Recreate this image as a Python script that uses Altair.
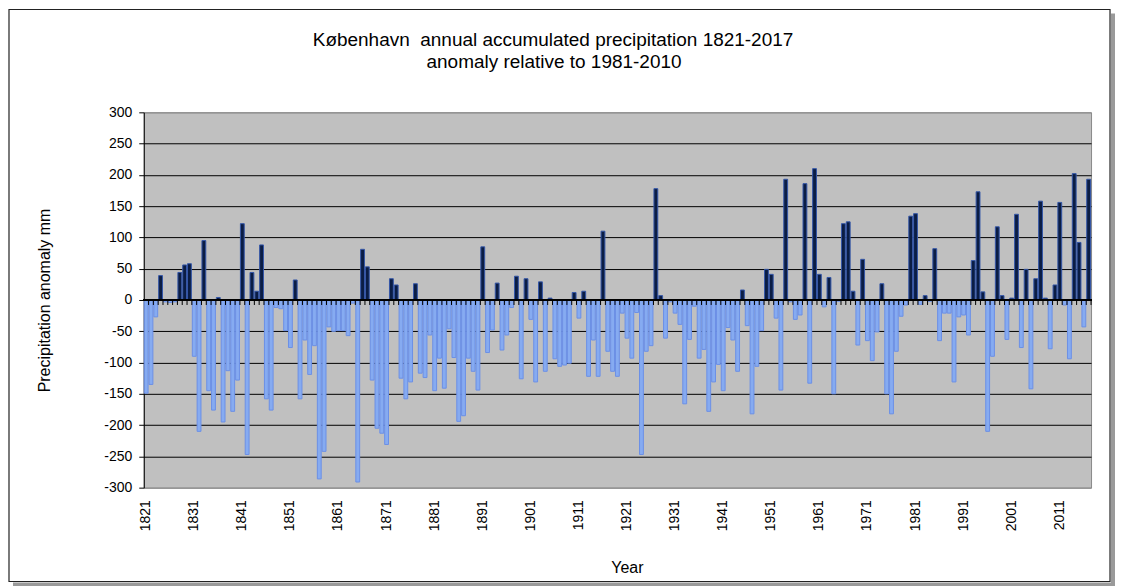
import altair as alt
import pandas as pd

years = list(range(1821, 2018))
anomaly = [
    -149, -135, -27, 39, -3, -4, -3, 44, 56, 58,
    -90, -210, 95, -145, -176, 4, -195, -113, -178, -128,
    122, -247, 44, 14, 88, -158, -176, -12, -14, -49,
    -76, 32, -158, -64, -119, -73, -286, -242, -43, -50,
    -49, -49, -57, -5, -291, 81, 53, -128, -205, -213,
    -231, 34, 24, -125, -158, -131, 26, -117, -124, -56,
    -145, -93, -141, -46, -92, -194, -185, -93, -114, -144,
    85, -84, -48, 27, -80, -56, -12, 38, -126, 34,
    -31, -131, 29, -114, 3, -94, -106, -104, -101, 12,
    -29, 14, -122, -64, -122, 110, -82, -114, -122, -21,
    -61, -93, -20, -247, -82, -73, 178, 7, -61, -3,
    -21, -39, -166, -63, -10, -93, -79, -178, -131, -103,
    -145, -44, -64, -114, 16, -41, -182, -106, -49, 49,
    41, -29, -144, 193, -3, -31, -24, 186, -133, 210,
    41, -11, 36, -150, -2, 122, 125, 14, -72, 65,
    -65, -97, -51, 26, -150, -182, -82, -26, -8, 134,
    138, -7, 7, -2, 82, -65, -21, -21, -131, -27,
    -24, -56, 63, 173, 13, -210, -90, 117, 7, -63,
    3, 137, -76, 49, -142, 34, 158, 3, -78, 24,
    156, -8, -94, 202, 92, -43, 193,
]
tick_years = list(range(1821, 2012, 10))
y_ticks = list(range(-300, 301, 50))
title_lines = ["København\u00a0 annual accumulated precipitation 1821-2017",
               "anomaly relative to 1981-2010"]

FONT = "Liberation Sans"
W, H = 949, 376
DARK, DARK_EDGE = "#0b1d44", "#3456a8"
LIGHT, LIGHT_EDGE = "#86abf1", "#6b90e6"

df = pd.DataFrame({"year": years, "anomaly": anomaly})
df["sign"] = ["pos" if v >= 0 else "neg" for v in anomaly]

xscale = alt.Scale(paddingInner=0.2, paddingOuter=0.1)
yscale = alt.Scale(domain=[-300, 300], nice=False)

x_axis = alt.Axis(values=tick_years, labelAngle=-90, labelAlign="right",
                  labelBaseline="middle", ticks=False, domain=False,
                  labelPadding=12, labelFontSize=14, labelColor="black",
                  labelOverlap=False,
                  title="Year", titleX=484, titleY=80, titleAlign="center",
                  titleBaseline="middle", titleFontSize=16,
                  titleFontWeight="normal", titleColor="black")
y_axis = alt.Axis(values=y_ticks, grid=True,
                  gridColor={"condition": {"test": "abs(datum.value) === 300",
                                           "value": "#8a8a8a"},
                             "value": "black"},
                  gridWidth=1, tickColor="black", tickSize=5,
                  domainColor="black", domainWidth=1,
                  labelFontSize=14, labelPadding=7, labelColor="black",
                  labelOverlap=False, labelExpr="toString(datum.value)",
                  title="Precipitation anomaly mm", titleX=-99, titleY=188,
                  titleAngle=-90, titleAlign="center", titleBaseline="middle",
                  titleFontSize=16, titleFontWeight="normal",
                  titleColor="black")

base = alt.Chart(df)

bars = base.mark_bar(strokeWidth=1).encode(
    x=alt.X("year:O", scale=xscale, axis=x_axis),
    y=alt.Y("anomaly:Q", scale=yscale, axis=y_axis),
    color=alt.Color("sign:N", scale=alt.Scale(domain=["pos", "neg"], range=[DARK, LIGHT]),
                    legend=None),
    stroke=alt.Stroke("sign:N", scale=alt.Scale(domain=["pos", "neg"],
                                                range=[DARK_EDGE, LIGHT_EDGE]),
                      legend=None),
)

zero = base.mark_rule(color="black", strokeWidth=1).encode(
    y=alt.Y(datum=0, type="quantitative", scale=yscale, axis=y_axis))

ticks = base.mark_rule(color="black", strokeWidth=1, xOffset=W / len(years) / 2).encode(
    x=alt.X("year:O", scale=xscale, axis=x_axis),
    y=alt.Y(datum=0, type="quantitative", scale=yscale, axis=y_axis),
    y2=alt.datum(-8),
)

one = alt.Chart(pd.DataFrame({"k": [0]}))
frame = one.mark_rect(fillOpacity=0, stroke="#222222", strokeWidth=1.2).encode(
    x=alt.value(-135), x2=alt.value(968), y=alt.value(-103), y2=alt.value(470))
shadow_r = one.mark_rule(color="#9a9a9a", strokeWidth=4).encode(
    x=alt.value(971), y=alt.value(-99), y2=alt.value(473))
shadow_b = one.mark_rule(color="#9a9a9a", strokeWidth=4).encode(
    x=alt.value(-131), x2=alt.value(973), y=alt.value(473))

title1 = one.mark_text(font=FONT, fontSize=19, color="black", align="center",
                       baseline="middle").encode(
    x=alt.value(410), y=alt.value(-72), text=alt.value(title_lines[0]))
title2 = one.mark_text(font=FONT, fontSize=19, color="black", align="center",
                       baseline="middle").encode(
    x=alt.value(411), y=alt.value(-50), text=alt.value(title_lines[1]))

chart = alt.layer(bars, zero, ticks, frame, shadow_r, shadow_b, title1, title2).properties(
    width=W, height=H,
    autosize=alt.AutoSizeParams(type="none"),
    padding={"left": 136, "top": 104, "right": 25, "bottom": 98},
).configure(
    background="white",
    font=FONT,
).configure_view(
    fill="#c0c0c0", stroke="#8a8a8a", strokeWidth=1,
).configure_axis(
    labelFont=FONT, titleFont=FONT, labelOverlap=False,
)

chart.save("out.html", embed_options={"renderer": "svg", "actions": False})
